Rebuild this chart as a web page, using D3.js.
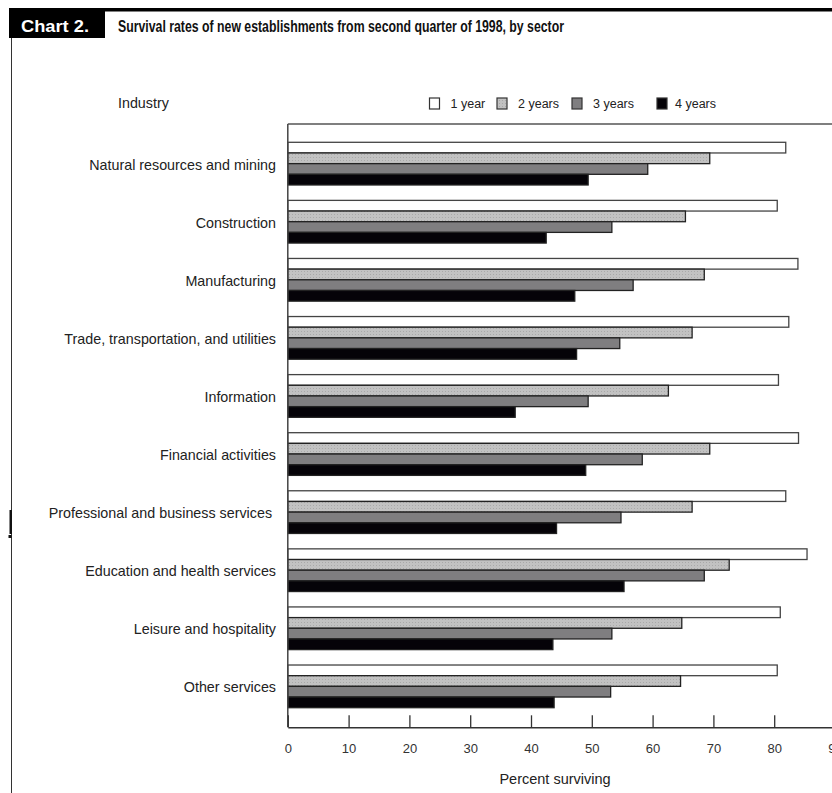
<!DOCTYPE html>
<html><head><meta charset="utf-8">
<script src="https://cdn.jsdelivr.net/npm/d3@7"></script>
<style>body{margin:0;background:#fff}svg{display:block}</style>
</head><body><svg id="c" width="832" height="793"></svg>
<script>
const categories = ["Natural resources and mining","Construction","Manufacturing","Trade, transportation, and utilities","Information","Financial activities","Professional and business services ","Education and health services","Leisure and hospitality","Other services"];
const seriesNames = ["1 year","2 years","3 years","4 years"];
const year1 = [81.9, 80.5, 83.9, 82.4, 80.7, 84.0, 81.9, 85.4, 81.0, 80.5];
const year2 = [69.4, 65.4, 68.5, 66.5, 62.6, 69.4, 66.5, 72.6, 64.8, 64.6];
const year3 = [59.2, 53.3, 56.8, 54.6, 49.4, 58.3, 54.8, 68.5, 53.3, 53.1];
const year4 = [49.4, 42.5, 47.2, 47.5, 37.4, 49.0, 44.2, 55.3, 43.6, 43.8];
const xTicks = [0,10,20,30,40,50,60,70,80,90];
const titleTag = "Chart 2.";
const titleText = "Survival rates of new establishments from second quarter of 1998, by sector";
const yAxisTitle = "Industry";
const xAxisTitle = "Percent surviving";

const series = [year1, year2, year3, year4];
const fills = ["#ffffff", "url(#dots)", "#7f7e80", "#050308"];

const svg = d3.select("#c");
const defs = svg.append("defs");
const pat = defs.append("pattern").attr("id","dots").attr("width",3).attr("height",3).attr("patternUnits","userSpaceOnUse");
pat.append("rect").attr("width",3).attr("height",3).attr("fill","#c2c2c2");
pat.append("rect").attr("x",1).attr("y",1).attr("width",1).attr("height",1).attr("fill","#a9a9a9");

const font = "Liberation Sans, Arial, Helvetica, sans-serif";

// Title
svg.append("rect").attr("x",9).attr("y",8).attr("width",823).attr("height",3.5).attr("fill","#000");
svg.append("rect").attr("x",9).attr("y",8).attr("width",96).attr("height",30).attr("fill","#000");
svg.append("text").attr("x",21).attr("y",31.5).attr("fill","#fff").attr("font-family",font).attr("font-weight","bold").attr("font-size",17).attr("textLength",68).attr("lengthAdjust","spacingAndGlyphs").text(titleTag);
svg.append("text").attr("x",118).attr("y",31.5).attr("fill","#111").attr("font-family",font).attr("font-weight","bold").attr("font-size",17).attr("textLength",446).attr("lengthAdjust","spacingAndGlyphs").text(titleText);

// left page border
svg.append("line").attr("x1",11.5).attr("x2",11.5).attr("y1",38).attr("y2",793).attr("stroke","#333").attr("stroke-width",1);
svg.append("rect").attr("x",9.5).attr("y",510).attr("width",2.5).attr("height",24).attr("fill","#111");
svg.append("rect").attr("x",8.5).attr("y",535).attr("width",3).attr("height",3).attr("fill","#111");

const x = d3.scaleLinear().domain([0,90]).range([287.8, 835]);
const y0 = d3.scaleBand().domain(categories).range([134.6, 715.4]).paddingInner(0.265).paddingOuter(0.1325);
const y1 = d3.scaleBand().domain(d3.range(4)).range([0, y0.bandwidth()]);

const plotTop = 124, plotBottom = 727.3;

// bars
const g = svg.append("g");
categories.forEach((c, i) => {
  series.forEach((s, j) => {
    g.append("rect")
      .attr("x", x(0))
      .attr("y", y0(c) + y1(j))
      .attr("width", x(s[i]) - x(0))
      .attr("height", y1.bandwidth())
      .attr("fill", fills[j])
      .attr("stroke", j === 0 ? "#444" : "#222")
      .attr("stroke-width", 1.3);
  });
});

// frame
svg.append("line").attr("x1",x(0)).attr("x2",832).attr("y1",plotTop).attr("y2",plotTop).attr("stroke","#555").attr("stroke-width",1.5);
svg.append("line").attr("x1",x(0)).attr("x2",x(0)).attr("y1",plotTop).attr("y2",plotBottom).attr("stroke","#444").attr("stroke-width",1.5);

// x axis
const xAxis = d3.axisBottom(x).tickValues(xTicks).tickSizeInner(-12).tickSizeOuter(0).tickPadding(16);
const ax = svg.append("g").attr("transform",`translate(0,${plotBottom})`).call(xAxis);
ax.select(".domain").attr("stroke","#333").attr("stroke-width",1.5);
ax.selectAll(".tick line").attr("stroke","#333").attr("stroke-width",1.3);
ax.selectAll(".tick text").attr("font-family",font).attr("font-size",13).attr("fill","#333");

svg.append("text").attr("x",555).attr("y",784).attr("text-anchor","middle").attr("font-family",font).attr("font-size",14.5).attr("fill","#222").text(xAxisTitle);

// category labels
categories.forEach(c => {
  svg.append("text").attr("x",276).attr("y", y0(c) + y0.bandwidth()/2 + 1).attr("dy","0.35em")
    .attr("text-anchor","end").attr("font-family",font).attr("font-size",14.3).attr("fill","#222")
    .attr("xml:space","preserve").style("white-space","pre").text(c);
});

svg.append("text").attr("x",118).attr("y",108).attr("font-family",font).attr("font-size",14.3).attr("fill","#222").text(yAxisTitle);

// legend
const legX = [429.5, 497, 572, 657];
seriesNames.forEach((n, j) => {
  svg.append("rect").attr("x",legX[j]).attr("y",98).attr("width",10).attr("height",11)
    .attr("fill",fills[j]).attr("stroke","#333").attr("stroke-width",1.2);
  svg.append("text").attr("x",legX[j]+ (j===3?18:21)).attr("y",103.5).attr("dy","0.35em")
    .attr("font-family",font).attr("font-size",12.5).attr("fill","#222").text(n);
});
</script></body></html>
